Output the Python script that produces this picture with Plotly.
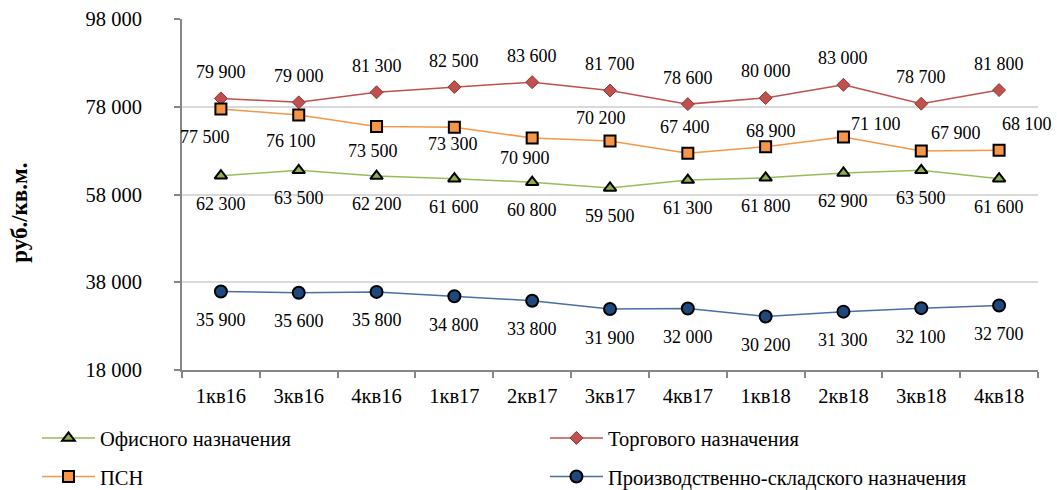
import plotly.graph_objects as go

# Quarterly average asking prices, rub per sq. m.
quarters = ["1кв16", "3кв16", "4кв16", "1кв17", "2кв17", "3кв17",
            "4кв17", "1кв18", "2кв18", "3кв18", "4кв18"]

office = [62300, 63500, 62200, 61600, 60800, 59500, 61300, 61800, 62900, 63500, 61600]
retail = [79900, 79000, 81300, 82500, 83600, 81700, 78600, 80000, 83000, 78700, 81800]
psn = [77500, 76100, 73500, 73300, 70900, 70200, 67400, 68900, 71100, 67900, 68100]
industrial = [35900, 35600, 35800, 34800, 33800, 31900, 32000, 30200, 31300, 32100, 32700]

series_names = ["Офисного назначения", "Торгового назначения", "ПСН",
                "Производственно-складского назначения"]

y_ticks = [18000, 38000, 58000, 78000, 98000]

# pixel offsets (dx, dy; dy positive = downwards) for the ПСН value labels
psn_label_offsets = [(-16, 28), (-8, 26), (-4, 25), (-1, 17), (-7, 20), (-9, -23),
                     (-3, -26), (5, -16), (33, -13), (35, -18), (28, -26)]

SERIF = "Liberation Serif"
LABEL_SIZE = 18


def fmt(v):
    return f"{v:,}".replace(",", " ")


fig = go.Figure()

fig.add_trace(go.Scatter(
    x=quarters, y=office, name=series_names[0], mode="lines+markers",
    legend="legend", legendgroup="office",
    line=dict(color="#9BBB59", width=1.5),
    marker=dict(symbol="triangle-up", size=11, color="#8DB04A",
                line=dict(color="#000000", width=2)),
))
fig.add_trace(go.Scatter(
    x=quarters, y=retail, name=series_names[1], mode="lines+markers",
    legend="legend2", legendgroup="retail",
    line=dict(color="#C0504D", width=1.5),
    marker=dict(symbol="diamond", size=10, color="#C0504D",
                line=dict(color="#8C3836", width=1)),
))
fig.add_trace(go.Scatter(
    x=quarters, y=psn, name=series_names[2], mode="lines+markers",
    legend="legend", legendgroup="psn",
    line=dict(color="#F79646", width=1.5),
    marker=dict(symbol="square", size=11, color="#F79646",
                line=dict(color="#000000", width=2)),
))
fig.add_trace(go.Scatter(
    x=quarters, y=industrial, name=series_names[3], mode="lines+markers",
    legend="legend2", legendgroup="industrial",
    line=dict(color="#4A6FA5", width=1.5),
    marker=dict(symbol="circle", size=12, color="#1F497D",
                line=dict(color="#000000", width=2)),
))

annotations = []
label_font = dict(family=SERIF, size=LABEL_SIZE, color="#000000")

for q, v in zip(quarters, retail):
    annotations.append(dict(x=q, y=v, text=fmt(v), showarrow=False,
                            yshift=26.5, font=label_font))
for q, v in zip(quarters, office):
    annotations.append(dict(x=q, y=v, text=fmt(v), showarrow=False,
                            yshift=-28, font=label_font))
for q, v in zip(quarters, industrial):
    annotations.append(dict(x=q, y=v, text=fmt(v), showarrow=False,
                            yshift=-28.5, font=label_font))
for q, v, (dx, dy) in zip(quarters, psn, psn_label_offsets):
    annotations.append(dict(x=q, y=v, text=fmt(v), showarrow=False,
                            xshift=dx, yshift=-dy, font=label_font))

# vertical axis title
annotations.append(dict(
    xref="paper", yref="paper", x=-0.19, y=0.449, xanchor="center", yanchor="middle",
    text="<b>руб./кв.м.</b>", showarrow=False, textangle=-90,
    font=dict(family=SERIF, size=23, color="#000000"),
))

legend_style = dict(
    orientation="v", y=-0.137, yanchor="top", xanchor="left",
    font=dict(family=SERIF, size=20.5, color="#000000"),
    bgcolor="rgba(0,0,0,0)", itemwidth=53, tracegroupgap=9,
)

fig.update_layout(
    width=1057, height=490,
    margin=dict(l=182, r=19, t=19, b=120, autoexpand=False),
    paper_bgcolor="#FFFFFF", plot_bgcolor="#FFFFFF",
    font=dict(family=SERIF, color="#000000"),
    annotations=annotations,
    showlegend=True,
    legend=dict(x=-0.1694, **legend_style),
    legend2=dict(x=0.424, **legend_style),
)

fig.update_xaxes(
    type="category", categoryorder="array", categoryarray=quarters,
    range=[-0.5, len(quarters) - 0.5],
    showline=True, linecolor="#868686", linewidth=2,
    ticks="outside", ticklen=6, tickcolor="#868686", tickwidth=2,
    tickson="boundaries", showgrid=False, zeroline=False,
    tickfont=dict(family=SERIF, size=20.5, color="#000000"),
    ticklabelstandoff=6,
)
fig.update_yaxes(
    range=[18000, 98000], tickvals=y_ticks, ticktext=[fmt(t) for t in y_ticks],
    showline=True, linecolor="#868686", linewidth=2,
    ticks="outside", ticklen=6, tickcolor="#868686", tickwidth=2,
    showgrid=True, gridcolor="#D9D9D9", gridwidth=2, zeroline=False,
    tickfont=dict(family=SERIF, size=20.5, color="#000000"),
    ticklabelstandoff=28,
)

fig.write_html("out.html")
